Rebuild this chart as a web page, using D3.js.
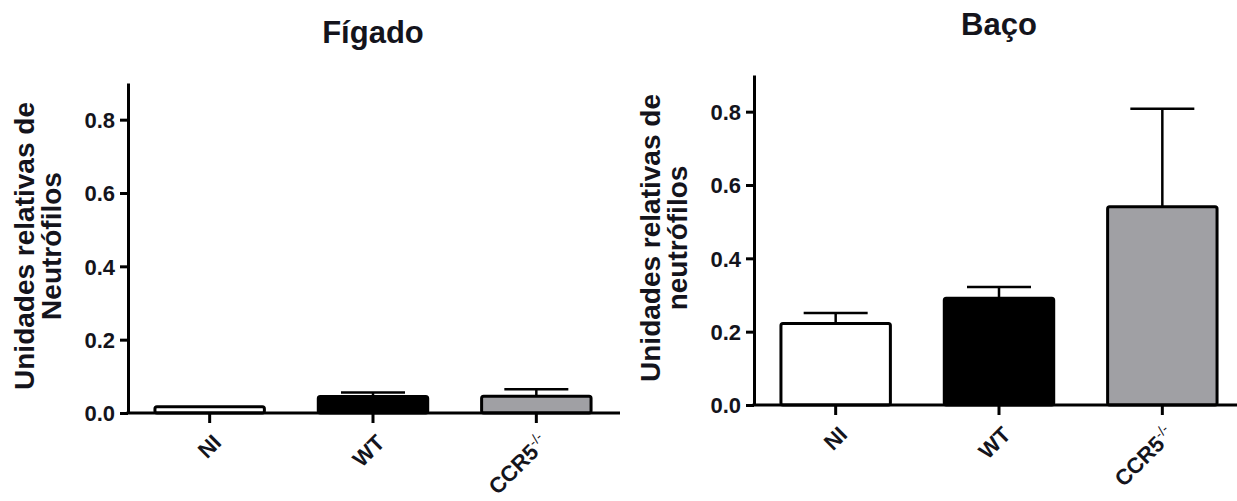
<!DOCTYPE html>
<html>
<head>
<meta charset="utf-8">
<script src="https://cdn.jsdelivr.net/npm/d3@7"></script>
<style>
  body { margin: 0; background: #fff; }
  text { font-family: "Liberation Sans", Arial, sans-serif; font-weight: bold; fill: #14141c; }
</style>
</head>
<body>
<div id="chart"></div>
<script>
var width = 1237, height = 501;

var groups = ["NI", "WT", "CCR5"];
var fills = ["#ffffff", "#000000", "#a0a0a4"];
var yTicks = [0, 0.2, 0.4, 0.6, 0.8];

var figadoMeans = [0.017, 0.045, 0.046];
var figadoErrors = [0.0, 0.011, 0.019];

var bacoMeans = [0.222, 0.291, 0.541];
var bacoErrors = [0.029, 0.031, 0.267];

var svg = d3.select("#chart")
    .append("svg")
        .attr("width", width)
        .attr("height", height);

function drawPanel(opts) {
    var g = svg.append("g")
        .attr("transform", "translate(" + opts.left + "," + opts.top + ")");

    var plotH = 330, plotW = opts.plotW;

    var x = d3.scaleBand()
        .domain(groups)
        .range([0, 490])
        .paddingInner(0.33)
        .paddingOuter(0.165);

    var y = d3.scaleLinear()
        .domain([0, 0.9])
        .range([plotH, 0]);

    var data = groups.map(function(d, i) {
        return {group: d, mean: opts.means[i], err: opts.errors[i], fill: fills[i]};
    });

    // error bars (upper only)
    var eb = g.selectAll(".err")
        .data(data.filter(function(d) { return d.err > 0; }))
        .enter();
    eb.append("line")
        .attr("x1", function(d) { return x(d.group) + x.bandwidth() / 2; })
        .attr("x2", function(d) { return x(d.group) + x.bandwidth() / 2; })
        .attr("y1", function(d) { return y(d.mean); })
        .attr("y2", function(d) { return y(d.mean + d.err); })
        .style("stroke", "black")
        .style("stroke-width", 2.5);
    eb.append("line")
        .attr("x1", function(d) { return x(d.group) + x.bandwidth() / 2 - 32; })
        .attr("x2", function(d) { return x(d.group) + x.bandwidth() / 2 + 32; })
        .attr("y1", function(d) { return y(d.mean + d.err); })
        .attr("y2", function(d) { return y(d.mean + d.err); })
        .style("stroke", "black")
        .style("stroke-width", 2.5);

    g.selectAll(".bar")
        .data(data)
        .enter()
        .append("rect")
            .attr("class", "bar")
            .attr("x", function(d) { return x(d.group); })
            .attr("y", function(d) { return y(d.mean); })
            .attr("width", x.bandwidth())
            .attr("height", function(d) { return plotH - y(d.mean); })
            .attr("rx", 2)
            .style("fill", function(d) { return d.fill; })
            .style("stroke", "black")
            .style("stroke-width", 3);

    // y axis
    var yAxis = g.append("g")
        .call(d3.axisLeft(y).tickValues(yTicks).tickFormat(d3.format(".1f"))
            .tickSize(8).tickSizeOuter(0).tickPadding(5));
    yAxis.select(".domain").style("stroke-width", 3);
    yAxis.selectAll(".tick line").style("stroke-width", 3);
    yAxis.selectAll(".tick text")
        .attr("dy", "0.36em")
        .style("font-size", "22px")
        .style("font-family", "Liberation Sans, Arial, sans-serif")
        .style("font-weight", "bold")
        .style("fill", "#14141c");

    // x axis
    g.append("line")
        .attr("x1", -1.5).attr("x2", plotW)
        .attr("y1", plotH).attr("y2", plotH)
        .style("stroke", "black")
        .style("stroke-width", 3);

    var xt = g.selectAll(".xtick")
        .data(groups)
        .enter()
        .append("g")
            .attr("transform", function(d) { return "translate(" + (x(d) + x.bandwidth() / 2) + "," + plotH + ")"; });
    xt.append("line")
        .attr("y1", 0).attr("y2", 10)
        .style("stroke", "black")
        .style("stroke-width", 3);
    var lbl = xt.append("text")
        .attr("text-anchor", "end")
        .attr("transform", "translate(13,31) rotate(-45)")
        .style("font-size", "22px");
    lbl.append("tspan").text(function(d) { return d; });
    lbl.filter(function(d) { return d === "CCR5"; })
        .append("tspan")
            .attr("dy", "-0.6em")
            .style("font-size", "14px")
            .style("font-weight", "normal")
            .text("-/-");

    // y label
    var yl = g.append("text")
        .attr("text-anchor", "middle")
        .attr("transform", "translate(" + (-94) + "," + (plotH / 2 - 2) + ") rotate(-90)")
        .style("font-size", "28px");
    yl.append("tspan").attr("x", 0).attr("dy", 0).text("Unidades relativas de");
    yl.append("tspan").attr("x", 0).attr("dy", 27).text(opts.ylabel2);

    // title
    svg.append("text")
        .attr("x", opts.titleX)
        .attr("y", opts.titleY)
        .attr("text-anchor", "middle")
        .style("font-size", "31px")
        .text(opts.title);
}

drawPanel({left: 128, top: 83, plotW: 492, means: figadoMeans, errors: figadoErrors,
    ylabel2: "Neutrófilos", title: "Fígado", titleX: 373, titleY: 43});
drawPanel({left: 754, top: 75, plotW: 490, means: bacoMeans, errors: bacoErrors,
    ylabel2: "neutrófilos", title: "Baço", titleX: 999, titleY: 35});
</script>
</body>
</html>
